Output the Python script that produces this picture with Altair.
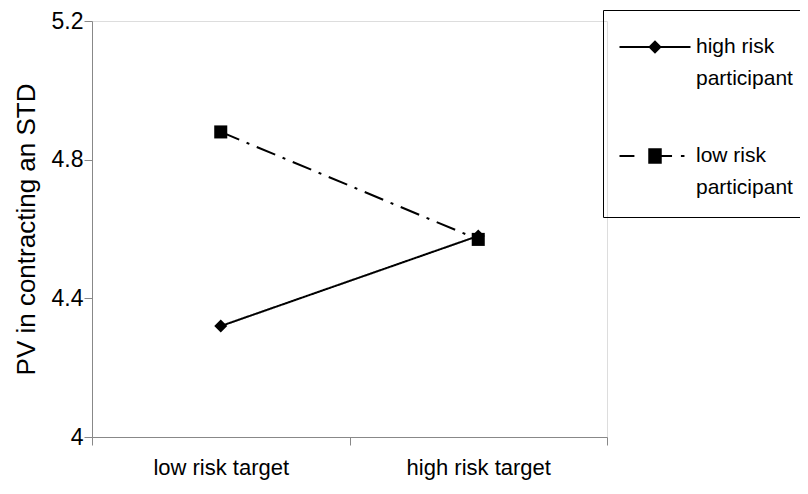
import altair as alt
import pandas as pd

# ---- data ----
targets = ["low risk target", "high risk target"]
series = ["high risk participant", "low risk participant"]
high_risk_values = [4.32, 4.58]
low_risk_values = [4.88, 4.57]
y_ticks = [4, 4.4, 4.8, 5.2]

rows = []
for s, vals in zip(series, [high_risk_values, low_risk_values]):
    for t, v in zip(targets, vals):
        rows.append({"target": t, "series": s, "value": v})
df = pd.DataFrame(rows)

FONT = "Liberation Sans"
W, H = 515, 416

x_enc = alt.X(
    "target:N",
    sort=targets,
    scale=alt.Scale(domain=targets, paddingInner=0, paddingOuter=0),
    axis=alt.Axis(
        title=None, tickBand="extent", grid=False,
        tickSize=8, labelPadding=12, labelFontSize=22, labelAngle=0,
        labelBaseline="top",
    ),
)
y_enc = alt.Y(
    "value:Q",
    scale=alt.Scale(domain=[4, 5.2], nice=False, zero=False),
    axis=alt.Axis(
        values=y_ticks, labelExpr="toString(datum.value)", grid=False,
        title="PV in contracting an STD", titleFontSize=26, titleFontWeight="normal",
        titleX=-66, titleY=H / 2, titleAngle=270, titleAlign="center", titleBaseline="middle",
        tickSize=8, labelPadding=1, labelFontSize=23,
    ),
)

lines = alt.Chart(df).mark_line(color="black", strokeWidth=2).encode(
    x=x_enc, y=y_enc,
    strokeDash=alt.StrokeDash(
        "series:N",
        scale=alt.Scale(domain=series, range=[[1, 0], [20, 8, 3, 8]]),
        legend=None,
    ),
)

points = alt.Chart(df).mark_point(filled=True, color="black", opacity=1, size=170).encode(
    x=x_enc, y=y_enc,
    shape=alt.Shape(
        "series:N",
        scale=alt.Scale(domain=series, range=["diamond", "square"]),
        legend=None,
    ),
)

# legend symbols: line + marker as filled shapes, drawn in a -2..2 wide box
t = 0.06
path_high = (
    f"M-2,-{t}H2V{t}H-2Z"
    "M0,-0.38L0.38,0L0,0.38L-0.38,0Z"
)
path_low = (
    f"M-2,-{t}H-1.16V{t}H-2Z"
    "M-0.38,-0.44H0.38V0.44H-0.38Z"
    f"M0.38,-{t}H0.96V{t}H0.38Z"
    f"M1.46,-{t}H1.66V{t}H1.46Z"
)

legend_layer = alt.Chart(df).mark_point(
    filled=True, color="black", opacity=0
).encode(
    x=x_enc, y=y_enc,
    shape=alt.Shape(
        "series:N",
        scale=alt.Scale(domain=series, range=[path_high, path_low]),
        legend=alt.Legend(
            title=None, orient="none", legendX=511, legendY=-11,
            symbolSize=1260, symbolOpacity=1, symbolFillColor="black",
            symbolStrokeWidth=0, symbolOffset=15,
            labelExpr="[slice(datum.label, 0, lastindexof(datum.label, ' ')), slice(datum.label, lastindexof(datum.label, ' ') + 1)]",
            labelFontSize=21, labelFont=FONT, labelColor="black", labelOffset=23,
            labelLimit=300, rowPadding=49, padding=19,
            strokeColor="black",
        ),
    ),
)

chart = (
    alt.layer(lines, points, legend_layer)
    .resolve_scale(shape="independent", strokeDash="independent")
    .properties(
        width=W, height=H,
        autosize=alt.AutoSizeParams(type="none"),
        padding={"left": 84, "top": 13, "right": 193, "bottom": 49},
        background="white",
    )
    .configure_view(stroke=None)
    .configure_axis(
        domainColor="black", tickColor="black", labelColor="black", titleColor="black",
        labelFont=FONT, titleFont=FONT, domainWidth=1.5, tickWidth=1.5, grid=False,
    )
    .configure_legend(strokeWidth=1.5, cornerRadius=0)
    .configure(style={"guide-label": {"lineHeight": 32}})
)

chart.save("out.html", embed_options={"renderer": "svg", "actions": False})
